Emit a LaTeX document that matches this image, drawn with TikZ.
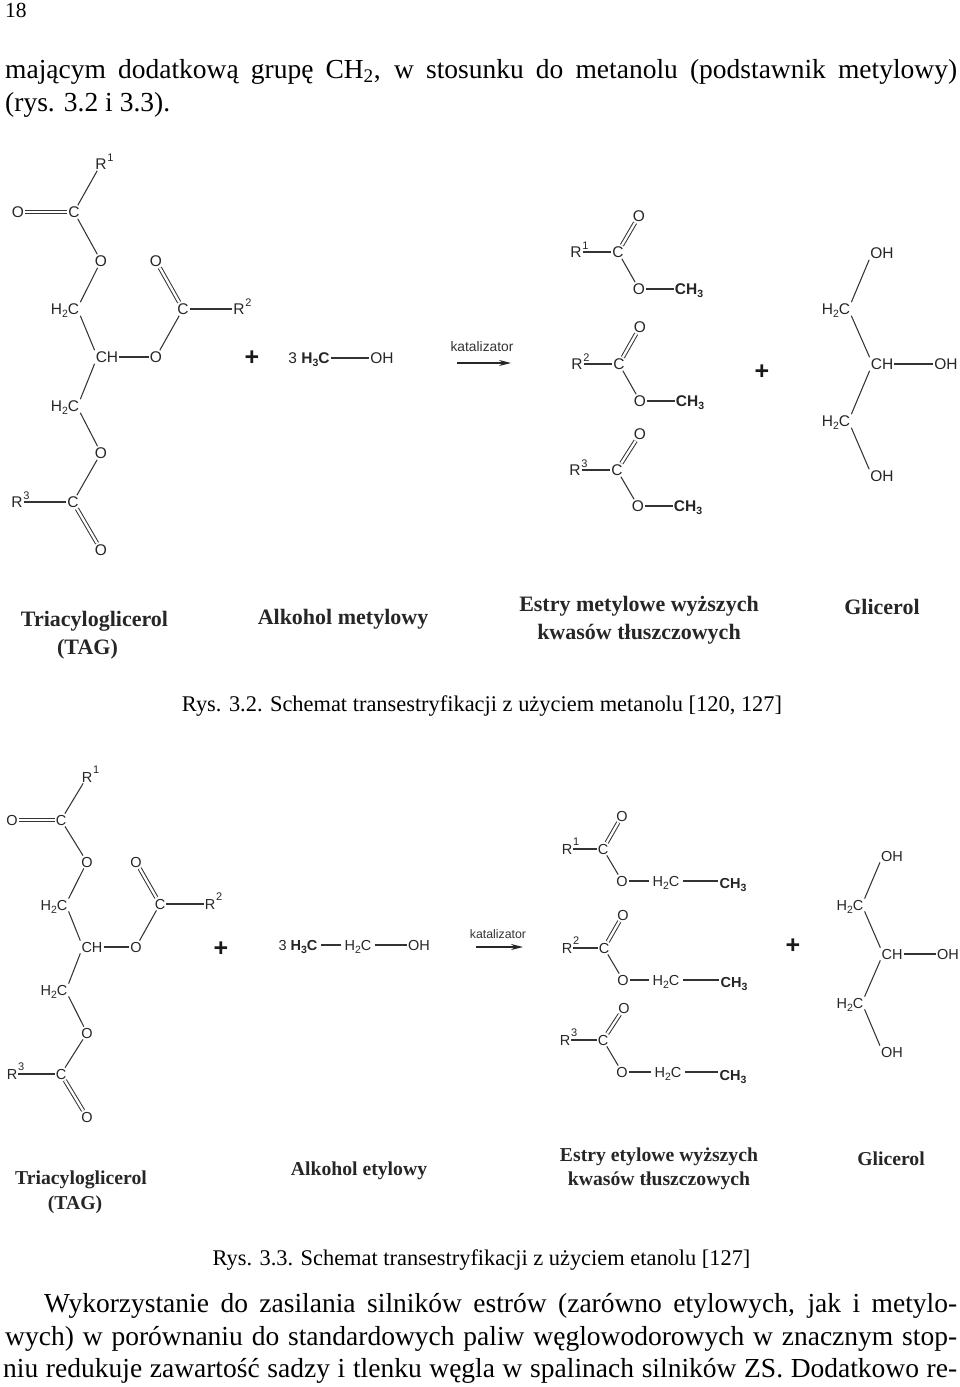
\documentclass[tikz,border=0pt]{standalone}
\usepackage{fontspec}
\setmainfont{Liberation Serif}
\newfontfamily\chemf{Liberation Sans}
\usetikzlibrary{arrows.meta}
\newcommand{\subs}[1]{\raisebox{-3pt}{\fontsize{10.5}{10.5}\selectfont #1}}
\newcommand{\Rsup}[1]{R\rlap{\raisebox{8.5pt}{\fontsize{11}{11}\selectfont\kern0.8pt #1}}}
\tikzset{
  x=1pt,y=1pt,
  atom/.style={font=\chemf\fontsize{15.5}{15.5}\selectfont,text=black!85,inner sep=1pt,text height=11.1pt,text depth=0pt},
  atomb/.style={atom,font=\chemf\bfseries\fontsize{15.5}{15.5}\selectfont},
  atoms/.style={atom,font=\chemf\fontsize{14.5}{14.5}\selectfont,text height=10.4pt},
  atomsb/.style={atoms,font=\chemf\bfseries\fontsize{14.5}{14.5}\selectfont},
  ethgap/.style={outer sep=3pt},
  bond/.style={draw=black!80,line width=1.05pt},
  dbl/.style={draw=black!80,line width=1pt,double=white,double distance=2.3pt},
  rarrow/.style={draw=black!85,line width=1.05pt,-{Stealth[length=12pt,width=6pt]}},
  kat/.style={font=\chemf\fontsize{13.8}{13.8}\selectfont,text=black!80,inner sep=0pt},
  kats/.style={kat,font=\chemf\fontsize{12.3}{12.3}\selectfont},
  plussign/.style={font=\chemf\bfseries\fontsize{25}{25}\selectfont,text=black!90,inner sep=0pt},
  labelA/.style={font=\bfseries\fontsize{22}{27.5}\selectfont,inner sep=0pt,align=center,text=black!85},
  labelB/.style={font=\bfseries\fontsize{19.7}{24.5}\selectfont,inner sep=0pt,align=center,text=black!85},
  captext/.style={font=\fontsize{22.4}{26}\selectfont,inner sep=0pt,anchor=base},
  body/.style={font=\fontsize{27.5}{33}\selectfont,inner sep=0pt,anchor=base west},
}
\begin{document}
\begin{tikzpicture}
\useasboundingbox (0,0) rectangle (960,-1387);
% --- body text, top
\node[body,font=\fontsize{21.5}{25}\selectfont] (pg) at (5,-17) {18};
\node[body] (l1) at (5,-78) {\makebox[952pt][s]{mającym dodatkową grupę CH\textsubscript{2}, w stosunku do metanolu (podstawnik metylowy)}};
\node[body] (l2) at (5,-111) {(rys. 3.2 i 3.3).};
% --- Rys 3.2: triglyceride
\node[atom] (ar1) at (101,-164) {\Rsup{1}};
\node[atom] (ac1) at (74,-212) {C};
\node[atom] (ao1) at (18,-212) {O};
\node[atom] (ao2) at (101,-261) {O};
\node[atom] (ah1) at (65,-309) {H\subs{2}C};
\node[atom] (ach) at (107,-357) {CH};
\node[atom] (ao3) at (156,-357) {O};
\node[atom] (ac2) at (183,-309) {C};
\node[atom] (ao4) at (156,-261) {O};
\node[atom] (ar2) at (239,-309) {\Rsup{2}};
\node[atom] (ah2) at (65,-406) {H\subs{2}C};
\node[atom] (ao5) at (101,-453) {O};
\node[atom] (ac3) at (73,-502) {C};
\node[atom] (ar3) at (17,-502) {\Rsup{3}};
\node[atom] (ao6) at (101,-550) {O};
\draw[bond] (ac1) -- (ar1);
\draw[dbl] (ao1) -- (ac1);
\draw[bond] (ac1) -- (ao2);
\draw[bond] (ao2) -- (ah1.north east);
\draw[bond] (ah1.south east) -- (ach.north west);
\draw[bond] (ach) -- (ao3);
\draw[bond] (ao3) -- (ac2);
\draw[dbl] (ac2) -- (ao4);
\draw[bond] (ac2) -- (ar2);
\draw[bond] (ach.south west) -- (ah2.north east);
\draw[bond] (ah2.south east) -- (ao5);
\draw[bond] (ao5) -- (ac3);
\draw[bond] (ac3) -- (ar3);
\draw[dbl] (ac3) -- (ao6);
\node[plussign] (ap1) at (252,-358) {+};
\node[atom] (ame) at (309,-358) {3 {\bfseries H\subs{3}C}};
\node[atom] (aoh) at (382,-358) {OH};
\draw[bond] (ame) -- (aoh);
\node[kat] (akat) at (482,-347) {katalizator};
\coordinate (aas) at (457,-363);
\coordinate (aae) at (511,-363);
\draw[rarrow] (aas) -- (aae);
% methyl esters
\node[atom] (bo1) at (639,-216) {O};
\node[atom] (bc1) at (618,-252) {C};
\node[atom] (br1) at (576,-252) {\Rsup{1}};
\node[atom] (be1) at (639,-289) {O};
\node[atomb] (bm1) at (689,-289) {CH\subs{3}};
\node[atom] (bo2) at (640,-327) {O};
\node[atom] (bc2) at (619,-364) {C};
\node[atom] (br2) at (577,-364) {\Rsup{2}};
\node[atom] (be2) at (640,-401) {O};
\node[atomb] (bm2) at (690,-401) {CH\subs{3}};
\node[atom] (bo3) at (640,-434) {O};
\node[atom] (bc3) at (617,-470) {C};
\node[atom] (br3) at (575,-470) {\Rsup{3}};
\node[atom] (be3) at (638,-506) {O};
\node[atomb] (bm3) at (688,-506) {CH\subs{3}};
\foreach \i in {1,2,3}{
  \draw[dbl] (bc\i) -- (bo\i);
  \draw[bond] (br\i) -- (bc\i);
  \draw[bond] (bc\i) -- (be\i);
  \draw[bond] (be\i) -- (bm\i);
}
\node[plussign] (ap2) at (762,-372) {+};
% glycerol
\node[atom] (go1) at (882,-253) {OH};
\node[atom] (gh1) at (836,-309) {H\subs{2}C};
\node[atom] (gch) at (882,-364) {CH};
\node[atom] (go2) at (946,-364) {OH};
\node[atom] (gh2) at (836,-421) {H\subs{2}C};
\node[atom] (go3) at (882,-476) {OH};
\draw[bond] (go1.south west) -- (gh1.north east);
\draw[bond] (gh1.south east) -- (gch.north west);
\draw[bond] (gch) -- (go2);
\draw[bond] (gch.south west) -- (gh2.north east);
\draw[bond] (gh2.south east) -- (go3.north west);
% labels
\node[labelA] (la1) at (94.5,-635) {Triacyloglicerol\\(TAG)\kern14pt};
\node[labelA] (la2) at (343,-619) {Alkohol metylowy};
\node[labelA] (la3) at (639,-620) {Estry metylowe wyższych\\kwasów tłuszczowych};
\node[labelA] (la4) at (882,-607) {Glicerol};
\node[captext] (ca) at (482,-711) {Rys. 3.2. Schemat transestryfikacji z użyciem metanolu [120, 127]};
% --- Rys 3.3: triglyceride
\node[atoms] (dr1) at (87,-777) {\Rsup{1}};
\node[atoms] (dc1) at (61,-820) {C};
\node[atoms] (do1) at (12,-820) {O};
\node[atoms] (do2) at (87,-862) {O};
\node[atoms] (dh1) at (54,-905) {H\subs{2}C};
\node[atoms] (dch) at (92,-947) {CH};
\node[atoms] (do3) at (136,-947) {O};
\node[atoms] (dc2) at (160,-904) {C};
\node[atoms] (do4) at (136,-862) {O};
\node[atoms] (dr2) at (210,-904) {\Rsup{2}};
\node[atoms] (dh2) at (54,-990) {H\subs{2}C};
\node[atoms] (do5) at (87,-1033) {O};
\node[atoms] (dc3) at (61,-1074) {C};
\node[atoms] (dr3) at (12,-1074) {\Rsup{3}};
\node[atoms] (do6) at (87,-1117) {O};
\draw[bond] (dc1) -- (dr1);
\draw[dbl] (do1) -- (dc1);
\draw[bond] (dc1) -- (do2);
\draw[bond] (do2) -- (dh1.north east);
\draw[bond] (dh1.south east) -- (dch.north west);
\draw[bond] (dch) -- (do3);
\draw[bond] (do3) -- (dc2);
\draw[dbl] (dc2) -- (do4);
\draw[bond] (dc2) -- (dr2);
\draw[bond] (dch.south west) -- (dh2.north east);
\draw[bond] (dh2.south east) -- (do5);
\draw[bond] (do5) -- (dc3);
\draw[bond] (dc3) -- (dr3);
\draw[dbl] (dc3) -- (do6);
\node[plussign] (dp1) at (221,-949) {+};
\node[atoms,ethgap] (dme) at (298,-945) {3 {\bfseries H\subs{3}C}};
\node[atoms,ethgap] (dmh) at (358,-945) {H\subs{2}C};
\node[atoms] (doh) at (419,-945) {OH};
\draw[bond] (dme) -- (dmh);
\draw[bond] (dmh) -- (doh);
\node[kats] (dkat) at (498,-934) {katalizator};
\coordinate (das) at (476,-947);
\coordinate (dae) at (523,-947);
\draw[rarrow] (das) -- (dae);
% ethyl esters
\node[atoms] (eo1) at (622,-816) {O};
\node[atoms] (ec1) at (603,-849) {C};
\node[atoms] (er1) at (567,-849) {\Rsup{1}};
\node[atoms] (ee1) at (622,-881) {O};
\node[atoms,ethgap] (eh1) at (666,-881) {H\subs{2}C};
\node[atomsb] (em1) at (733,-883) {CH\subs{3}};
\node[atoms] (eo2) at (623,-915) {O};
\node[atoms] (ec2) at (604,-948) {C};
\node[atoms] (er2) at (567,-948) {\Rsup{2}};
\node[atoms] (ee2) at (623,-980) {O};
\node[atoms,ethgap] (eh2) at (666,-980) {H\subs{2}C};
\node[atomsb] (em2) at (734,-982) {CH\subs{3}};
\node[atoms] (eo3) at (624,-1008) {O};
\node[atoms] (ec3) at (603,-1040) {C};
\node[atoms] (er3) at (565,-1040) {\Rsup{3}};
\node[atoms] (ee3) at (622,-1072) {O};
\node[atoms,ethgap] (eh3) at (668,-1072) {H\subs{2}C};
\node[atomsb] (em3) at (733,-1075) {CH\subs{3}};
\foreach \i in {1,2,3}{
  \draw[dbl] (ec\i) -- (eo\i);
  \draw[bond] (er\i) -- (ec\i);
  \draw[bond] (ec\i) -- (ee\i);
  \draw[bond] (ee\i) -- (eh\i);
  \draw[bond] (eh\i) -- (em\i.west |- eh\i);
}
\node[plussign] (dp2) at (793,-946) {+};
% glycerol
\node[atoms] (fo1) at (892,-856) {OH};
\node[atoms] (fh1) at (850,-905) {H\subs{2}C};
\node[atoms] (fch) at (892,-954) {CH};
\node[atoms] (fo2) at (948,-954) {OH};
\node[atoms] (fh2) at (850,-1003) {H\subs{2}C};
\node[atoms] (fo3) at (892,-1052) {OH};
\draw[bond] (fo1.south west) -- (fh1.north east);
\draw[bond] (fh1.south east) -- (fch.north west);
\draw[bond] (fch) -- (fo2);
\draw[bond] (fch.south west) -- (fh2.north east);
\draw[bond] (fh2.south east) -- (fo3.north west);
% labels
\node[labelB] (lb1) at (81,-1192) {Triacyloglicerol\\(TAG)\kern12pt};
\node[labelB] (lb2) at (359,-1171) {Alkohol etylowy};
\node[labelB] (lb3) at (659,-1169) {Estry etylowe wyższych\\kwasów tłuszczowych};
\node[labelB] (lb4) at (891,-1159) {Glicerol};
\node[captext] (cb) at (481.5,-1265) {Rys. 3.3. Schemat transestryfikacji z użyciem etanolu [127]};
% --- body text, bottom
\node[body] (l3) at (44,-1312) {\makebox[913pt][s]{Wykorzystanie do zasilania silników estrów (zarówno etylowych, jak i metylo-}};
\node[body] (l4) at (5,-1345) {\makebox[952pt][s]{wych) w porównaniu do standardowych paliw węglowodorowych w znacznym stop-}};
\node[body] (l5) at (3,-1377) {\makebox[954pt][s]{niu redukuje zawartość sadzy i tlenku węgla w spalinach silników ZS. Dodatkowo re-}};
\end{tikzpicture}
\end{document}
